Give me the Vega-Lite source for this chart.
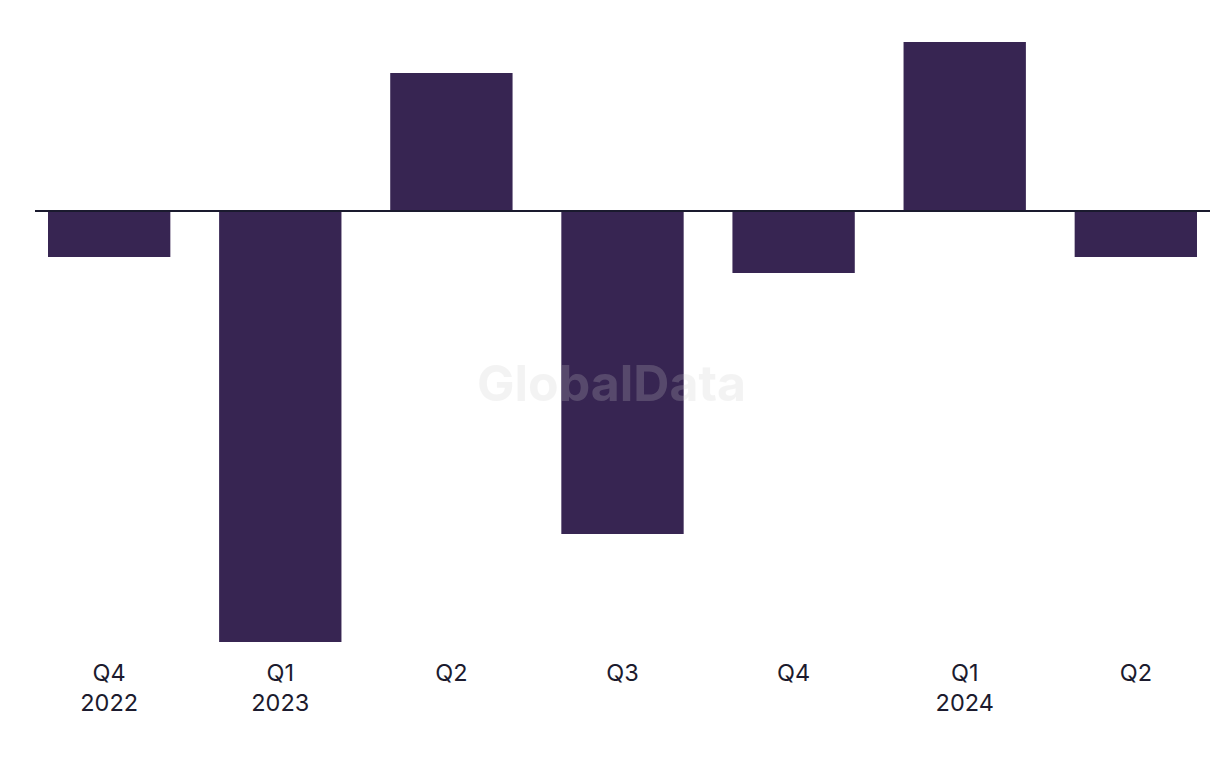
{
  "$schema": "https://vega.github.io/schema/vega-lite/v6.json",
  "autosize": {"type": "none"},
  "width": 1175,
  "height": 600,
  "padding": {"left": 35, "top": 42, "right": 10, "bottom": 126},
  "background": "white",
  "config": {"view": {"stroke": null}, "font": "Inter"},
  "data": {
    "values": [
      {"period": "Q4 2022", "value": -46},
      {"period": "Q1 2023", "value": -431},
      {"period": "Q2 2023", "value": 138},
      {"period": "Q3 2023", "value": -323},
      {"period": "Q4 2023", "value": -62},
      {"period": "Q1 2024", "value": 169},
      {"period": "Q2 2024", "value": -46}
    ]
  },
  "encoding": {
    "x": {
      "field": "period",
      "type": "nominal",
      "sort": null,
      "scale": {"paddingInner": 0.285, "paddingOuter": 0.076},
      "axis": {
        "title": null,
        "domain": false,
        "ticks": false,
        "labelAngle": 0,
        "labelFont": "Inter",
        "labelFontSize": 23.5,
        "labelLineHeight": 30,
        "labelPadding": 19,
        "labelColor": "#1c1b2e",
        "labelExpr": "test(/^(Q4 2022|Q1 2023|Q1 2024)$/, datum.value) ? split(datum.value, ' ') : split(datum.value, ' ')[0]"
      }
    }
  },
  "layer": [
    {
      "mark": {"type": "bar", "color": "#372552"},
      "encoding": {
        "y": {
          "field": "value",
          "type": "quantitative",
          "scale": {"domain": [-431, 169], "nice": false, "zero": true},
          "axis": null
        }
      }
    },
    {
      "mark": {"type": "rule", "color": "#1a1a2e", "strokeWidth": 2},
      "encoding": {"x": null, "y": {"datum": 0, "type": "quantitative"}}
    },
    {
      "data": {"values": [{"wm": "GlobalData"}]},
      "mark": {"type": "text", "font": "Inter", "fontWeight": "bold", "fontSize": 50, "color": "#cccccc", "opacity": 0.215, "align": "center", "baseline": "middle", "dx": -11},
      "encoding": {
        "text": {"field": "wm"},
        "x": {"datum": "Q3 2023", "type": "nominal"},
        "y": {"datum": -175, "type": "quantitative"}
      }
    }
  ]
}
